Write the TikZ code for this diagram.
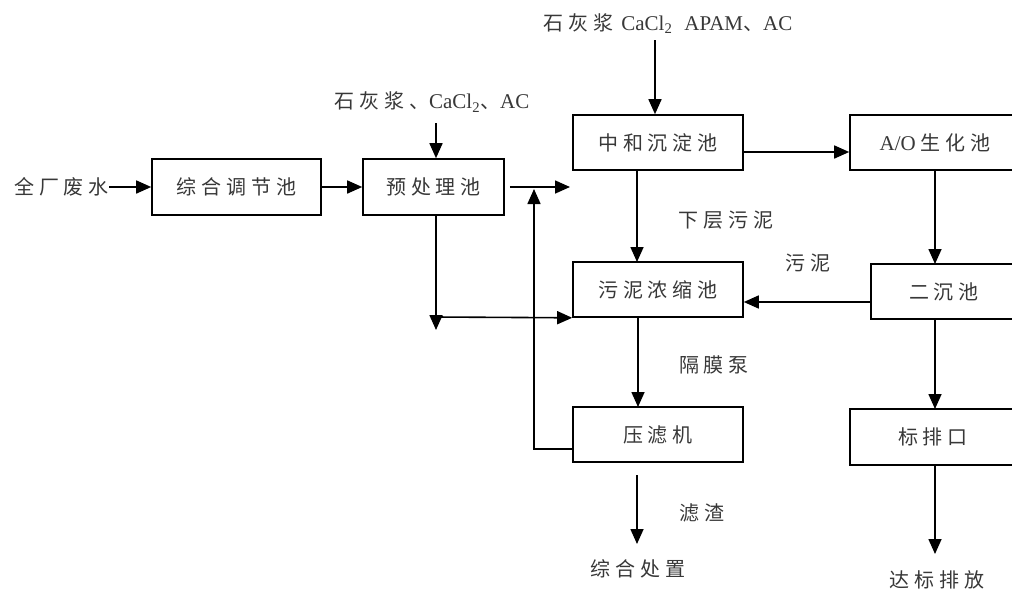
\documentclass[tikz,border=0pt]{standalone}
\usepackage{fontspec}
\setmainfont{Liberation Serif}
\newfontfamily\cjk[LetterSpace=24]{Noto Sans CJK SC}
\usetikzlibrary{arrows.meta}
\newcommand{\zh}[1]{{\cjk #1}}
\newcommand{\lat}[1]{{\fontsize{21}{24}\selectfont #1}}
\definecolor{txt}{gray}{0.22}
\begin{document}
\begin{tikzpicture}[x=1pt,y=-1pt,
  every node/.style={font=\fontsize{20}{23}\selectfont, text=txt, inner sep=0pt},
  box/.style={draw=black, line width=1.6pt, minimum height=55pt},
  arr/.style={-{Triangle[length=15pt,width=13pt]}, line width=1.6pt},
  ln/.style={line width=1.6pt}]
\clip (0,0) rectangle (1012,590);
\fill[white] (0,0) rectangle (1012,590);

% boxes
\node[box, minimum width=169pt, minimum height=56pt] (zhtj) at (236.5,187) {\zh{综合调节池}};
\node[box, minimum width=141pt, minimum height=56pt] (yu) at (433.5,187) {\zh{预处理池}};
\node[box, minimum width=170pt] (zc) at (658,142.5) {\zh{中和沉淀池}};
\node[box, minimum width=170pt] (ao) at (935,142.5) {\lat{A/O} \zh{生化池}};
\node[box, minimum width=170pt] (wn) at (658,289.5) {\zh{污泥浓缩池}};
\node[box, minimum width=146pt] (ec) at (944,291.5) {\zh{二沉池}};
\node[box, minimum width=170pt] (yl) at (658,434.5) {\zh{压滤机}};
\node[box, minimum width=166pt, minimum height=56pt] (bp) at (933,437) {\zh{标排口}};

% free texts
\node[anchor=east] (src) at (109,187) {\zh{全厂废水}};
\node (l1) at (432,102) {\zh{石灰浆、}\lat{CaCl\textsubscript{2}}\zh{、}\lat{AC}};
\node (l2) at (668,24) {\zh{石灰浆}\hspace{8pt}\lat{CaCl\textsubscript{2}}\hspace{12pt}\lat{APAM}\zh{、}\lat{AC}};
\node (t1) at (726,220) {\zh{下层污泥}};
\node (t2) at (808,263) {\zh{污泥}};
\node (t3) at (714,365) {\zh{隔膜泵}};
\node (t4) at (702,513) {\zh{滤渣}};
\node (zz) at (638,569) {\zh{综合处置}};
\node (db) at (937,580) {\zh{达标排放}};

% coordinates
\coordinate (c1) at (436,123);
\coordinate (c2) at (655,40);
\coordinate (yo) at (570,187);
\coordinate (fb) at (534,449);
\coordinate (fbt) at (534,189);
\coordinate (yd) at (436,330);
\coordinate (yh) at (436,317);
\coordinate (zzt) at (637,544);
\coordinate (dbt) at (935,554);

% connectors
\draw[arr] (src.east) -- (zhtj.west);
\draw[arr] (zhtj.east) -- (yu.west);
\draw[arr] (c1) -- (c1 |- yu.north);
\draw[arr] (c2) -- (c2 |- zc.north);
\draw[arr] ([xshift=5pt]yu.east) -- (yo);
\draw[arr] (zc.east |- 0,152) -- (ao.west |- 0,152);
\draw[arr] (637,170) -- (637,262);
\draw[arr] (935,170) -- (935,264);
\draw[arr] (ec.west |- 0,302) -- (wn.east |- 0,302);
\draw[arr] (935,319) -- (935,409);
\draw[arr] (638,317) -- (638,407);
\draw[arr] (436,215) -- (yd);
\draw[arr] (yh) -- (wn.south west);
\draw[arr] (yl.west |- fb) -- (fb) -- (fbt);
\draw[arr] (637,475) -- (zzt);
\draw[arr] (935,465) -- (dbt);
\end{tikzpicture}
\end{document}
